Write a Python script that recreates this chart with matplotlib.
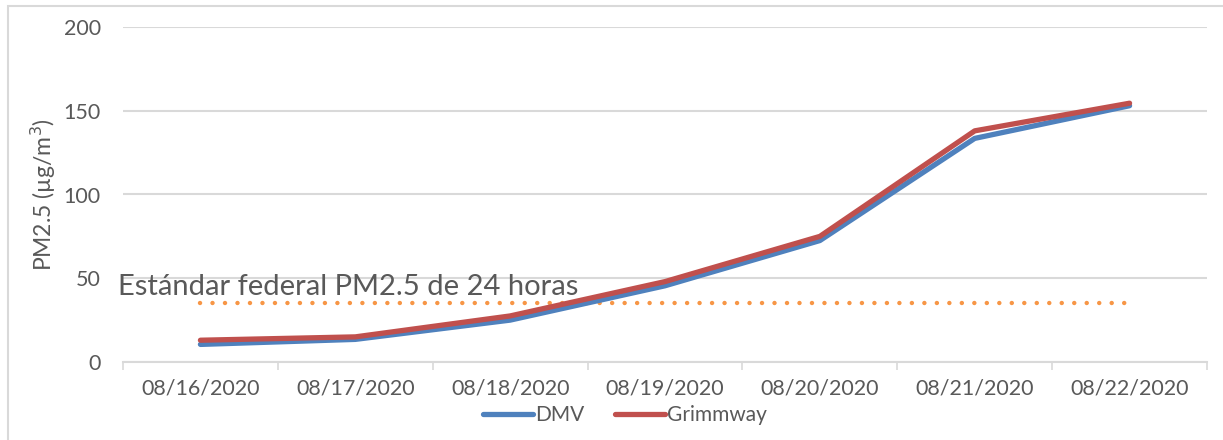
import numpy as np
import matplotlib.pyplot as plt
from matplotlib.patches import Rectangle

### Data
fechas = ['08/16/2020', '08/17/2020', '08/18/2020', '08/19/2020',
          '08/20/2020', '08/21/2020', '08/22/2020']
dmv = [10.5, 13.5, 25, 45.5, 72.5, 133.5, 153]
grimmway = [13, 15, 27.5, 48, 75, 138, 154.5]
estandar = 35  # 24-hour federal PM2.5 standard

plt.rcParams['font.family'] = ['Lato', 'DejaVu Sans']
gris = '#595959'

fig = plt.figure(figsize=(12.23, 4.4), dpi=100)
fig.patches.append(Rectangle((8/1223, -0.05), 1.2, 1 - 6/440 + 0.05, transform=fig.transFigure,
                             fill=False, edgecolor='#d9d9d9', linewidth=1.5))
ax = fig.add_axes([123/1223, 1 - 362/440, (1207 - 123)/1223, (362 - 27)/440])

x = np.arange(len(fechas))
ax.plot(x, dmv, color='#4f81bd', linewidth=3.8, solid_capstyle='round', label='DMV', zorder=3)
ax.plot(x, grimmway, color='#c0504d', linewidth=3.8, solid_capstyle='round', label='Grimmway', zorder=4)
ax.plot(x, [estandar]*len(x), color='#f79646', linewidth=3.2, linestyle=(0, (0.01, 2.8)),
        dash_capstyle='round', zorder=2)
ax.text(-0.53, 40, 'Estándar federal PM2.5 de 24 horas', fontsize=21, color=gris,
        va='baseline', ha='left', zorder=5)

### Axes
ax.set_xlim(-0.5, len(fechas) - 0.5)
ax.set_ylim(0, 200)
ax.set_yticks([0, 50, 100, 150, 200])
ax.set_xticks(x)
ax.set_xticklabels(fechas)
ax.set_xticks(np.arange(-0.5, len(fechas)), minor=True)
ax.tick_params(axis='x', which='major', length=0, pad=12, labelsize=15.5, labelcolor=gris)
ax.tick_params(axis='x', which='minor', length=6, width=1.2, color='#d9d9d9')
ax.tick_params(axis='y', length=0, pad=16, labelsize=15.5, labelcolor=gris)
ax.grid(axis='y', color='#d9d9d9', linewidth=1.5)
ax.set_axisbelow(True)
for s in ['top', 'right', 'left']:
    ax.spines[s].set_visible(False)
ax.spines['bottom'].set_color('#d9d9d9')
ax.spines['bottom'].set_linewidth(1.5)
ax.set_ylabel('PM2.5 (µg/m$^3$)', fontsize=16.5, color=gris, labelpad=4)

ax.legend(loc='center', bbox_to_anchor=(0.463, -0.158), ncol=2, frameon=False,
          fontsize=15, handlelength=2.4, handletextpad=0.1, columnspacing=1.5,
          labelcolor=gris, borderpad=0)

fig.savefig('out.png', dpi=100)
